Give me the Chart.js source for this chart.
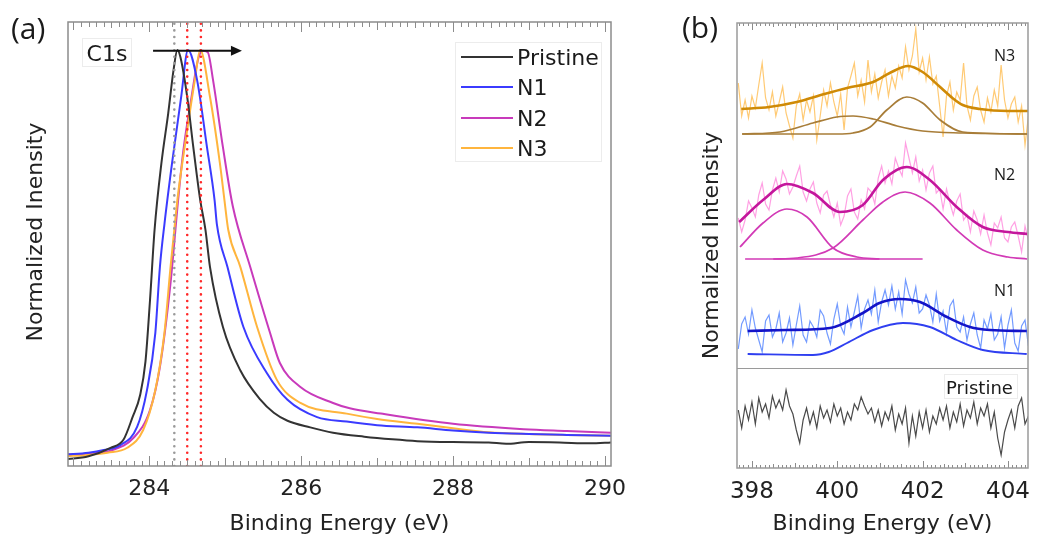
<!DOCTYPE html>
<html><head><meta charset="utf-8">
<script src="https://cdn.jsdelivr.net/npm/chart.js@4.4.1/dist/chart.umd.min.js"></script>
<style>
html,body{margin:0;padding:0;background:#fff;}
body{width:1037px;height:544px;position:relative;overflow:hidden;}
canvas{position:absolute;top:0;}
.lbl{position:absolute;white-space:nowrap;color:#1a1a1a;line-height:1;}
.box{position:absolute;border:1px solid #ececec;box-sizing:border-box;}
</style></head><body>
<canvas id="ca" width="640" height="544" style="left:0"></canvas>
<canvas id="cb" width="387" height="544" style="left:650px"></canvas>
<div class="lbl" style="left:11px;top:7px;font:30px 'Open Sans'">(a)</div>
<div class="lbl" style="left:682px;top:6px;font:30px 'Open Sans'">(b)</div>
<div class="lbl" style="left:34px;top:232px;transform:translate(-50%,-50%) rotate(-90deg);font:22px 'DejaVu Sans';color:#222">Normalized Inensity</div>
<div class="box" style="left:82px;top:38px;width:50px;height:29px;"></div>
<div class="lbl" style="left:82px;top:41px;width:50px;text-align:center;font:22px 'DejaVu Sans'">C1s</div>
<div id="legA" class="box" style="left:455px;top:42px;width:147px;height:120px;"></div>
<div class="lbl" style="left:994px;top:44px;font:16px 'Open Sans'">N3</div>
<div class="lbl" style="left:994px;top:163px;font:16px 'Open Sans'">N2</div>
<div class="lbl" style="left:994px;top:279px;font:16px 'Open Sans'">N1</div>
<div class="box" style="left:944px;top:374px;width:74px;height:25px;"></div>
<div class="lbl" style="left:946px;top:377px;font:18px 'DejaVu Sans'">Pristine</div>
<script>
// ---------------- Panel (a): C1s spectra ----------------
const seriesNames = ['Pristine', 'N1', 'N2', 'N3'];
const seriesColors = ['#333333', '#3b3bff', '#c83abb', '#ffb53d'];

const pristineE = [282.9,283.2,283.49,283.66,283.78,283.88,283.95,284.01,284.07,284.16,284.25,284.32,284.37,284.41,284.5,284.58,284.67,284.74,284.8,284.97,285.2,285.46,285.64,285.82,286.12,286.42,286.83,287.2,287.53,288.0,288.47,288.7,289.0,289.4,289.8,290.1];
const pristineI = [0.015,0.022,0.041,0.059,0.11,0.16,0.235,0.374,0.532,0.682,0.795,0.892,0.937,0.921,0.831,0.718,0.6,0.532,0.448,0.313,0.215,0.15,0.12,0.102,0.087,0.075,0.066,0.06,0.056,0.054,0.053,0.05,0.054,0.053,0.051,0.053];

const n1E = [282.9,283.2,283.4,283.62,283.84,283.97,284.08,284.14,284.2,284.3,284.42,284.51,284.63,284.76,284.86,284.89,285.03,285.24,285.55,285.82,286.21,286.6,287.0,287.53,288.0,288.47,289.0,289.5,290.1];
const n1I = [0.026,0.03,0.036,0.047,0.088,0.171,0.3,0.448,0.545,0.682,0.831,0.937,0.869,0.718,0.599,0.545,0.448,0.313,0.209,0.149,0.11,0.1,0.092,0.087,0.08,0.075,0.072,0.07,0.068];

const n2E = [282.9,283.2,283.5,283.79,284.01,284.14,284.28,284.38,284.45,284.55,284.64,284.7,284.77,284.84,284.97,285.1,285.33,285.59,285.72,285.99,286.42,286.64,287.05,288.0,288.93,289.5,290.1];
const n2I = [0.026,0.028,0.035,0.063,0.126,0.223,0.412,0.599,0.712,0.824,0.914,0.935,0.932,0.869,0.718,0.585,0.448,0.3,0.232,0.178,0.142,0.13,0.118,0.095,0.083,0.079,0.075];

const n3E = [282.9,283.2,283.45,283.71,283.92,284.08,284.2,284.28,284.33,284.37,284.5,284.6,284.67,284.8,284.93,284.99,285.04,285.2,285.42,285.68,285.99,286.6,287.0,287.53,288.0,288.47,289.0,289.5,290.1];
const n3I = [0.022,0.025,0.03,0.041,0.081,0.171,0.3,0.448,0.532,0.599,0.757,0.869,0.937,0.831,0.682,0.599,0.532,0.448,0.313,0.194,0.142,0.118,0.106,0.095,0.085,0.076,0.072,0.07,0.068];

const peakMarkersGray = [284.33];
const peakMarkersRed = [284.5, 284.68];
const shiftArrowE = [284.05, 285.22];
const shiftArrowLevel = 0.935;
const ticksA = [284, 286, 288, 290];

// ---------------- Panel (b): N1s spectra ----------------
const rawE = [397.68,397.76,397.84,397.92,398.00,398.08,398.16,398.24,398.32,398.40,398.48,398.56,398.64,398.72,398.80,398.88,398.96,399.04,399.12,399.20,399.28,399.36,399.44,399.52,399.60,399.68,399.76,399.84,399.92,400.00,400.08,400.16,400.24,400.32,400.40,400.48,400.56,400.64,400.72,400.80,400.88,400.96,401.04,401.12,401.20,401.28,401.36,401.44,401.52,401.60,401.68,401.76,401.84,401.92,402.00,402.08,402.16,402.24,402.32,402.40,402.48,402.56,402.64,402.72,402.80,402.88,402.96,403.04,403.12,403.20,403.28,403.36,403.44,403.52,403.60,403.68,403.76,403.84,403.92,404.00,404.08,404.16,404.24,404.32,404.40,404.48];
const n3Raw = [385,352,368,350,372,360,383,405,370,358,376,352,366,381,355,342,330,362,374,348,368,356,372,328,352,378,362,385,366,352,374,338,380,392,405,372,388,366,408,376,394,370,386,398,372,392,380,402,390,421,398,412,439,396,410,388,411,384,392,362,331,372,386,358,376,368,405,362,348,372,381,358,346,370,356,378,362,403,368,350,364,371,346,362,323,352];
const n2Raw = [250,236,248,267,260,251,273,285,264,258,278,290,276,297,289,274,281,292,302,276,267,279,286,265,255,273,277,263,251,265,243,252,272,279,256,249,268,259,280,276,264,290,302,285,297,284,310,300,292,325,310,295,311,287,298,278,295,302,275,279,259,279,265,253,267,274,248,253,236,257,248,234,253,235,223,245,240,251,230,226,241,246,232,216,242,228];
const n1Raw = [119,144,151,134,158,140,128,116,147,153,131,139,155,126,135,150,123,143,162,133,126,147,141,131,158,152,135,124,149,164,142,134,161,141,156,172,140,159,168,154,178,146,166,178,163,182,159,176,154,188,174,165,181,155,159,173,163,146,174,147,157,135,162,168,141,136,151,128,144,155,133,120,148,139,154,128,134,151,120,143,158,125,117,142,148,122];
const pristineRaw = [58,40,62,48,66,44,70,56,64,50,72,60,68,58,78,62,54,38,25,48,60,44,56,40,62,50,58,46,64,52,60,44,56,48,64,58,71,62,54,60,46,58,42,56,48,62,38,54,44,60,25,52,32,56,40,58,36,52,44,60,48,62,40,56,46,64,42,58,50,66,44,60,52,64,40,56,30,13,36,48,58,40,62,70,44,52];

const n3FitE = [397.75,398.4,399.05,399.7,400.23,400.84,401.23,401.66,402.0,402.41,402.7,402.94,403.34,404.0,404.47];
const n3FitI = [359,361,366,374,380,386,395,402,396,381,370,363,359,357,357];
const n3C1E = [397.77,398.66,399.43,399.99,400.37,400.84,401.4,402.0,402.94,404.45];
const n3C1I = [334,336,345,351,352,349,342,337,335,334];
const n3C2E = [397.77,400.0,400.37,400.77,401.16,401.63,402.0,402.41,402.94,404.45];
const n3C2I = [334,334,335,341,358,371,365,348,336,334];

const n2FitE = [397.7,398.26,398.82,399.43,400.06,400.6,401.07,401.63,402.17,402.8,403.41,404.0,404.45];
const n2FitI = [246,268,284,275,256,263,288,301,288,261,241,236,234];
const n2C1E = [397.72,398.26,398.82,399.29,399.9,400.46,400.99];
const n2C1I = [221,245,259,251,220,211,209];
const n2C2E = [398.5,399.05,399.9,400.6,401.07,401.59,402.17,402.8,403.41,404.0,404.45];
const n2C2I = [209,210,220,248,266,276,265,238,218,211,209];
const n2BaseE = [397.84,402.0];
const n2BaseI = [209,209];

const n1FitE = [397.9,398.8,399.83,400.6,400.99,401.47,401.94,402.57,403.11,403.58,404.44];
const n1FitI = [137,138,140,155,165,169,166,151,141,138,137];
const n1C1E = [397.9,399.43,399.8,400.23,400.84,401.54,402.17,402.8,403.41,404.44];
const n1C1I = [114,113,116,125,138,145,141,128,118,114];

const dividerLevel = 100;
const ticksB = [398, 400, 402, 404];

// ---------------- helpers ----------------
const pts = (xs, ys) => xs.map((x, i) => ({x: x, y: ys[i]}));

const frameTicks = {
  id: 'frameTicks',
  afterDatasetsDraw(chart, args, o) {
    const ctx = chart.ctx, a = chart.chartArea, xs = chart.scales.x, ys = chart.scales.y;
    ctx.save();
    ctx.strokeStyle = o.tickColor; ctx.lineWidth = 1;
    const k0 = Math.ceil(xs.min * 10 - 1e-6), k1 = Math.floor(xs.max * 10 + 1e-6);
    ctx.beginPath();
    for (let k = k0; k <= k1; k++) {
      const px = Math.round(xs.getPixelForValue(k / 10)) + 0.5;
      const len = (k % 20 === 0) ? o.lenMajor : (k % 10 === 0 ? o.lenMid : (k % 5 === 0 ? o.lenHalf : o.lenMinor));
      ctx.moveTo(px, a.bottom); ctx.lineTo(px, a.bottom - len);
      ctx.moveTo(px, a.top); ctx.lineTo(px, a.top + len);
    }
    ctx.stroke();
    if (o.divider != null) {
      const py = Math.round(ys.getPixelForValue(o.divider)) + 0.5;
      ctx.strokeStyle = o.frameColor; ctx.lineWidth = 1.2;
      ctx.beginPath(); ctx.moveTo(a.left, py); ctx.lineTo(a.right, py); ctx.stroke();
    }
    ctx.strokeStyle = o.frameColor; ctx.lineWidth = 1.5;
    ctx.strokeRect(a.left, a.top, a.right - a.left, a.bottom - a.top);
    if (o.arrow) {
      const x0 = xs.getPixelForValue(o.arrow[0]), x1 = xs.getPixelForValue(o.arrow[1]);
      const py = ys.getPixelForValue(o.arrowLevel);
      ctx.strokeStyle = '#111'; ctx.fillStyle = '#111'; ctx.lineWidth = 2;
      ctx.beginPath(); ctx.moveTo(x0, py); ctx.lineTo(x1 - 8, py); ctx.stroke();
      ctx.beginPath(); ctx.moveTo(x1, py); ctx.lineTo(x1 - 11, py - 5); ctx.lineTo(x1 - 11, py + 5); ctx.closePath(); ctx.fill();
    }
    ctx.restore();
  }
};

Chart.defaults.animation = false;
Chart.defaults.font.family = "'DejaVu Sans'";

function axisX(min, max, tickVals, fit, tickSize) {
  return {
    type: 'linear', min: min, max: max,
    afterBuildTicks: s => { s.ticks = tickVals.map(v => ({value: v})); },
    afterFit: s => { s.height = fit; },
    grid: {display: false}, border: {display: false},
    ticks: {font: {family: "'DejaVu Sans'", size: tickSize}, color: '#222', padding: 2, maxRotation: 0, autoSkip: false, callback: v => String(v)},
    title: {display: true, text: 'Binding Energy (eV)', color: '#222', font: {family: "'DejaVu Sans'", size: 22}, padding: {top: 0, bottom: 7}}
  };
}
function axisY(min, max, text, fit, padTop) {
  return {
    min: min, max: max,
    afterFit: s => { s.width = fit; },
    grid: {display: false}, border: {display: false},
    ticks: {display: false},
    title: {display: !!text, text: text || '', color: '#222', font: {family: "'DejaVu Sans'", size: 22}, padding: {top: padTop, bottom: 0}}
  };
}

// ---------------- chart (a) ----------------
const curvesA = [pts(pristineE, pristineI), pts(n1E, n1I), pts(n2E, n2I), pts(n3E, n3I)];
const dsA = [];
peakMarkersRed.forEach(e => dsA.push({data: [{x: e, y: 0}, {x: e, y: 1}], borderColor: '#ff2a2a', borderWidth: 2.6, borderDash: [0, 6.6], borderCapStyle: 'round', pointRadius: 0}));
peakMarkersGray.forEach(e => dsA.push({data: [{x: e, y: 0}, {x: e, y: 1}], borderColor: '#9a9a9a', borderWidth: 2.6, borderDash: [0, 6.6], borderCapStyle: 'round', pointRadius: 0}));
[0, 1, 3, 2].forEach(i => dsA.push({label: seriesNames[i], data: curvesA[i], borderColor: seriesColors[i], borderWidth: 2, pointRadius: 0, cubicInterpolationMode: 'monotone'}));

new Chart(document.getElementById('ca'), {
  type: 'line',
  data: {datasets: dsA},
  options: {
    responsive: false, parsing: false,
    layout: {padding: {top: 22, right: 29, left: 0, bottom: 0}},
    plugins: {legend: {display: false}, tooltip: {enabled: false},
      frameTicks: {tickColor: '#8c8c8c', frameColor: '#8c8c8c', lenMajor: 10, lenMid: 8, lenHalf: 6, lenMinor: 5, arrow: shiftArrowE, arrowLevel: shiftArrowLevel}},
    scales: {x: axisX(282.93, 290.08, ticksA, 78, 22), y: axisY(0, 1, null, 68, 0)}
  },
  plugins: [frameTicks]
});

// legend (a)
const leg = document.getElementById('legA');
seriesNames.forEach((n, i) => {
  const top = 14 + i * 30.3;
  const ln = document.createElement('div');
  ln.style.cssText = 'position:absolute;left:5px;width:52px;height:2px;top:' + (top - 1) + 'px;background:' + seriesColors[i];
  const tx = document.createElement('div');
  tx.className = 'lbl';
  tx.style.cssText = 'left:61px;top:' + (top - 12) + 'px;font:22px "DejaVu Sans";';
  tx.textContent = n;
  leg.appendChild(ln); leg.appendChild(tx);
});

// ---------------- chart (b) ----------------
const line = (d, c, w, smooth) => ({data: d, borderColor: c, borderWidth: w, pointRadius: 0, cubicInterpolationMode: smooth ? 'monotone' : 'default', tension: 0});
const dsB = [
  line(pts(n3FitE, n3FitI), '#cf8a06', 2.6, true),
  line(pts(n2FitE, n2FitI), '#c4169c', 2.6, true),
  line(pts(n1FitE, n1FitI), '#1414c8', 2.6, true),
  line(pts(n3C1E, n3C1I), '#a87d38', 1.7, true),
  line(pts(n3C2E, n3C2I), '#a87d38', 1.7, true),
  line(pts(n2C1E, n2C1I), '#d23ab6', 1.7, true),
  line(pts(n2C2E, n2C2I), '#d23ab6', 1.7, true),
  line(pts(n2BaseE, n2BaseI), '#d23ab6', 1.7, false),
  line(pts(n1C1E, n1C1I), '#2f3ff0', 1.9, true),
  line(pts(rawE, n3Raw), 'rgba(255,184,70,0.75)', 1.2, false),
  line(pts(rawE, n2Raw), 'rgba(255,120,215,0.7)', 1.2, false),
  line(pts(rawE, n1Raw), 'rgba(80,130,255,0.8)', 1.2, false),
  line(pts(rawE, pristineRaw), '#4a4a4a', 1.2, false)
];

new Chart(document.getElementById('cb'), {
  type: 'line',
  data: {datasets: dsB},
  options: {
    responsive: false, parsing: false,
    layout: {padding: {top: 23, right: 9, left: 0, bottom: 0}},
    plugins: {legend: {display: false}, tooltip: {enabled: false},
      frameTicks: {tickColor: '#8c8c8c', frameColor: '#9a9a9a', lenMajor: 7, lenMid: 5, lenHalf: 4, lenMinor: 3, divider: dividerLevel}},
    scales: {x: axisX(397.65, 404.47, ticksB, 76, 23), y: axisY(0, 445, 'Normalized Intensity', 87, 49)}
  },
  plugins: [frameTicks]
});
</script>
</body></html>
